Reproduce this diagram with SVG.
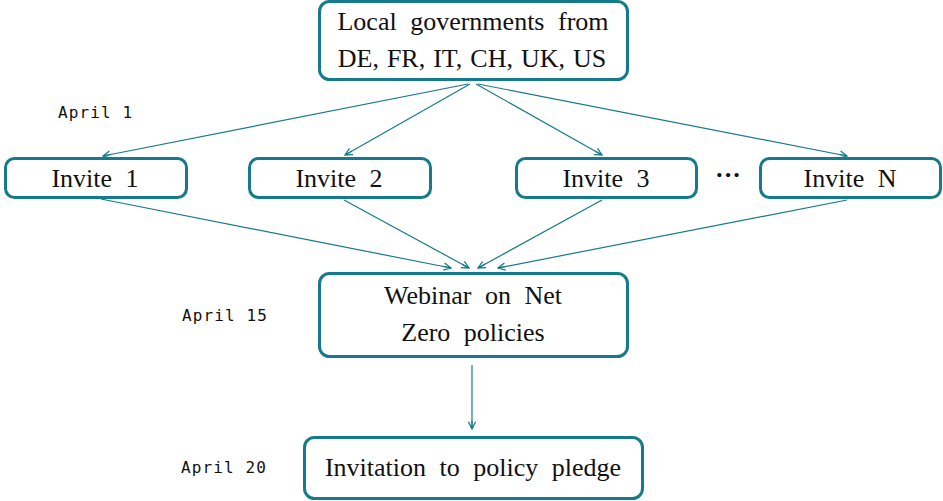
<svg xmlns="http://www.w3.org/2000/svg" width="943" height="501" viewBox="0 0 943 501">
<style>
.box{fill:#fff;stroke:#157b8c;stroke-width:3}
.t{font-family:"Liberation Serif","DejaVu Serif",serif;font-size:26px;word-spacing:7px;fill:#111;text-anchor:middle}
.d{font-family:"DejaVu Sans Mono","Liberation Mono",monospace;font-size:16px;letter-spacing:1.1px;fill:#111}
.c{stroke:#157b8c;stroke-width:1.2;fill:none;marker-end:url(#ah)}
</style>
<defs>
<marker id="ah" viewBox="0 0 10 10" refX="9" refY="5" markerWidth="9" markerHeight="9" markerUnits="userSpaceOnUse" orient="auto">
<path d="M1,1 L9,5 L1,9 M9,5 L0,5" fill="none" stroke="#157b8c" stroke-width="1.4"/>
</marker>
</defs>
<g id="connectors">
<line class="c" x1="468" y1="84" x2="103" y2="156"/>
<line class="c" x1="470" y1="84" x2="345" y2="155"/>
<line class="c" x1="476" y1="84" x2="602" y2="155"/>
<line class="c" x1="478" y1="84" x2="847" y2="156"/>
<line class="c" x1="101" y1="199" x2="451" y2="268"/>
<line class="c" x1="344" y1="200" x2="469" y2="268"/>
<line class="c" x1="602" y1="200" x2="478" y2="268"/>
<line class="c" x1="847" y1="200" x2="498" y2="268"/>
<line class="c" x1="472" y1="365" x2="472" y2="429"/>
</g>
<g id="top"><rect class="box" x="319.5" y="1.5" width="308" height="78" rx="10"/>
<text class="t" x="473" y="30">Local governments from</text>
<text class="t" x="472" y="67" style="word-spacing:1.5px">DE, FR, IT, CH, UK, US</text></g>
<g id="inv1"><rect class="box" x="5.5" y="158.5" width="181" height="39" rx="9"/><text class="t" x="95" y="187">Invite 1</text></g>
<g id="inv2"><rect class="box" x="249.5" y="158.5" width="181" height="39" rx="9"/><text class="t" x="339" y="187">Invite 2</text></g>
<g id="inv3"><rect class="box" x="516.5" y="158.5" width="180" height="39" rx="9"/><text class="t" x="606" y="187">Invite 3</text></g>
<g id="dots"><text class="t" x="728" y="183" style="font-weight:bold">···</text></g>
<g id="invN"><rect class="box" x="760.5" y="158.5" width="180" height="39" rx="9"/><text class="t" x="850" y="187">Invite N</text></g>
<g id="webinar"><rect class="box" x="319.5" y="273.5" width="308" height="83" rx="10"/>
<text class="t" x="473" y="304">Webinar on Net</text>
<text class="t" x="473" y="341">Zero policies</text></g>
<g id="pledge"><rect class="box" x="304.5" y="437.5" width="338" height="61" rx="10"/>
<text class="t" x="473" y="476">Invitation to policy pledge</text></g>
<g id="dates">
<text class="d" x="58" y="118">April 1</text>
<text class="d" x="182" y="321">April 15</text>
<text class="d" x="181" y="473">April 20</text>
</g>
</svg>
